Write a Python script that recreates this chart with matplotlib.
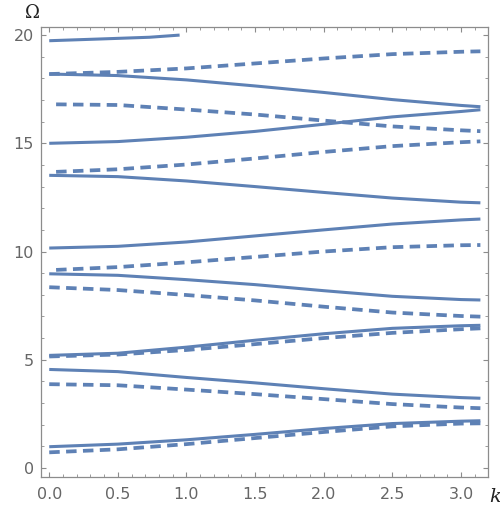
import matplotlib
matplotlib.use("Agg")
import matplotlib.pyplot as plt
from matplotlib.ticker import MultipleLocator
import numpy as np

# couleur par défaut de Mathematica
bleu = "#5E81B5"
gris = "#666666"

k = [0.0, 0.5, 1.0, 1.5, 2.0, 2.5, 3.0, np.pi]
k_dec = [0.05, 0.5, 1.0, 1.5, 2.0, 2.5, 3.0, np.pi]

# branche du haut (coupée à Omega = 20)
k_haut = [0.0, 0.37, 0.73, 0.95]
omega_haut = [19.74, 19.82, 19.9, 20.0]

# courbes pleines
pleines = [
    [18.2, 18.13, 17.93, 17.65, 17.35, 17.02, 16.75, 16.69],
    [15.0, 15.08, 15.28, 15.55, 15.88, 16.22, 16.47, 16.55],
    [13.52, 13.46, 13.26, 13.0, 12.73, 12.47, 12.28, 12.25],
    [10.16, 10.24, 10.44, 10.72, 11.0, 11.27, 11.46, 11.5],
    [8.97, 8.9, 8.7, 8.47, 8.19, 7.93, 7.78, 7.76],
    [5.2, 5.3, 5.58, 5.9, 6.2, 6.45, 6.57, 6.59],
    [4.55, 4.45, 4.18, 3.93, 3.66, 3.41, 3.25, 3.22],
    [0.98, 1.1, 1.3, 1.55, 1.82, 2.05, 2.16, 2.18],
]

# courbes en tirets (certaines commencent un peu après k = 0)
tirets = [
    (k, [18.2, 18.3, 18.46, 18.69, 18.92, 19.12, 19.23, 19.25]),
    (k_dec, [16.8, 16.77, 16.56, 16.33, 16.05, 15.78, 15.6, 15.56]),
    (k_dec, [13.68, 13.8, 14.02, 14.3, 14.6, 14.87, 15.05, 15.09]),
    (k_dec, [9.15, 9.28, 9.5, 9.75, 10.0, 10.2, 10.29, 10.3]),
    (k, [8.35, 8.22, 7.99, 7.74, 7.45, 7.18, 7.02, 6.99]),
    (k, [5.15, 5.24, 5.45, 5.72, 6.0, 6.24, 6.41, 6.45]),
    (k, [3.87, 3.82, 3.62, 3.41, 3.18, 2.95, 2.79, 2.76]),
    (k, [0.72, 0.86, 1.1, 1.38, 1.66, 1.92, 2.05, 2.06]),
]

fig = plt.figure(figsize=(5, 5.11), dpi=100)
ax = fig.add_axes([0.082, 0.0665, 0.894, 0.8805])

ax.plot(k_haut, omega_haut, color=bleu, lw=2.2, solid_capstyle="butt")
for y in pleines:
    ax.plot(k, y, color=bleu, lw=2.2, solid_capstyle="butt")
for kk, y in tirets:
    ax.plot(kk, y, color=bleu, lw=2.7, linestyle=(0, (2.8, 1.7)),
            dash_capstyle="butt")

ax.set_xlim(-0.06, 3.197)
ax.set_ylim(-0.42, 20.37)

ax.xaxis.set_major_locator(MultipleLocator(0.5))
ax.xaxis.set_minor_locator(MultipleLocator(0.1))
ax.yaxis.set_major_locator(MultipleLocator(5))
ax.yaxis.set_minor_locator(MultipleLocator(1))
ax.xaxis.set_major_formatter(plt.FuncFormatter(lambda v, p: "%.1f" % v))

for s in ax.spines.values():
    s.set_color("#8c8c8c")
    s.set_linewidth(0.9)

ax.tick_params(which="both", direction="in", top=True, right=True,
               color="#8c8c8c", labelcolor=gris, labelsize=11.5)
ax.tick_params(which="major", length=3.8, width=0.8)
ax.tick_params(which="minor", length=2.2, width=0.6)
ax.tick_params(axis="x", which="major", pad=7)
ax.tick_params(axis="y", which="major", pad=5)

fig.text(0.064, 0.975, "\u03a9", ha="center", va="center",
         fontsize=13, family="DejaVu Serif", color="#222222")
fig.text(0.99, 0.028, "k", ha="center", va="center", fontsize=14,
         family="DejaVu Serif", style="italic", color="#222222")

fig.savefig("out.png", dpi=100)
